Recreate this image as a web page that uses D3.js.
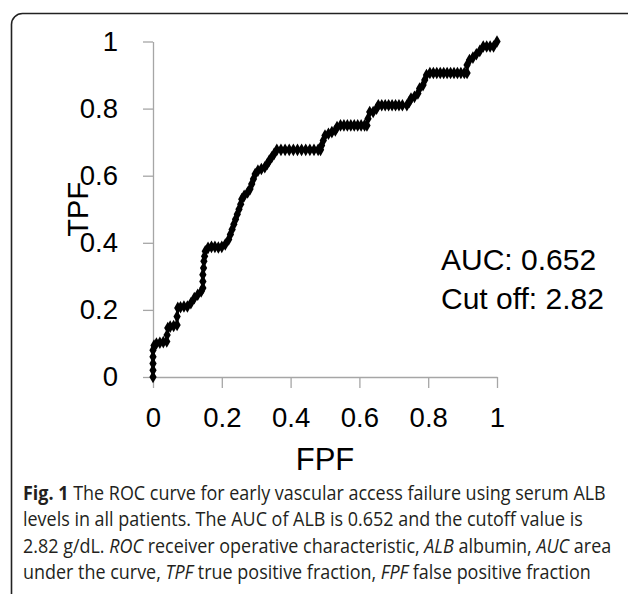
<!DOCTYPE html>
<html lang="en">

<head>
    <meta charset="UTF-8">
    <title>ROC curve ALB</title>
    <script src="https://d3js.org/d3.v7.min.js"></script>
    <style>
        body {
            margin: 0;
            background: #fff;
        }
    </style>
</head>

<body>
    <svg width="628" height="594"></svg>

    <script>
        // ROC points (false positive fraction, true positive fraction)
        const fpf = [0, 0, 0, 0, 0, 0.003, 0.01, 0.02, 0.03, 0.04, 0.041, 0.043, 0.05, 0.06, 0.07, 0.07, 0.072,
            0.08, 0.09, 0.1, 0.11, 0.12, 0.13, 0.14, 0.145, 0.145, 0.145, 0.147, 0.148, 0.15, 0.152,
            0.16, 0.17, 0.18, 0.19, 0.2, 0.21, 0.22, 0.225, 0.23, 0.235, 0.24, 0.245, 0.25, 0.255, 0.258,
            0.265, 0.275, 0.282, 0.287, 0.292, 0.297, 0.305, 0.315, 0.325, 0.332, 0.338, 0.345, 0.352, 0.36,
            0.372, 0.384, 0.396, 0.408, 0.42, 0.432, 0.444, 0.456, 0.468, 0.48, 0.487,
            0.49, 0.495, 0.5, 0.51, 0.52, 0.53, 0.535, 0.545,
            0.555, 0.565, 0.575, 0.585, 0.595, 0.605, 0.615, 0.622,
            0.625, 0.63, 0.64, 0.65, 0.655,
            0.665, 0.675, 0.685, 0.695, 0.705, 0.715, 0.725, 0.738,
            0.745, 0.75, 0.76, 0.77, 0.775, 0.785, 0.79, 0.795,
            0.805, 0.815, 0.825, 0.835, 0.845, 0.855, 0.865, 0.875, 0.885, 0.895, 0.905, 0.913,
            0.913, 0.92, 0.93, 0.94, 0.95, 0.96, 0.97, 0.98, 0.99, 1];
        const tpf = [0, 0.02, 0.04, 0.06, 0.08, 0.094, 0.1, 0.102, 0.104, 0.106, 0.125, 0.146, 0.15, 0.152, 0.155, 0.18, 0.206,
            0.208, 0.21, 0.21, 0.22, 0.235, 0.245, 0.255, 0.265, 0.285, 0.305, 0.325, 0.345, 0.36, 0.375,
            0.385, 0.388, 0.388, 0.386, 0.388, 0.395, 0.41, 0.425, 0.44, 0.455, 0.47, 0.485, 0.5, 0.515, 0.53,
            0.54, 0.55, 0.56, 0.575, 0.59, 0.605, 0.615, 0.62, 0.625, 0.635, 0.645, 0.655, 0.665, 0.677,
            0.677, 0.677, 0.677, 0.677, 0.677, 0.677, 0.677, 0.677, 0.677, 0.677, 0.677,
            0.69, 0.705, 0.72, 0.725, 0.73, 0.735, 0.745, 0.75,
            0.75, 0.75, 0.75, 0.75, 0.75, 0.75, 0.75, 0.75,
            0.77, 0.79, 0.79, 0.8, 0.81,
            0.81, 0.81, 0.81, 0.81, 0.81, 0.81, 0.81, 0.81,
            0.82, 0.83, 0.835, 0.845, 0.86, 0.87, 0.885, 0.9,
            0.906, 0.906, 0.906, 0.906, 0.906, 0.906, 0.906, 0.906, 0.906, 0.906, 0.906, 0.906,
            0.93, 0.945, 0.952, 0.962, 0.972, 0.985, 0.985, 0.985, 0.985, 1];

        const tickValues = [0, 0.2, 0.4, 0.6, 0.8, 1];
        const statLines = ["AUC: 0.652", "Cut off: 2.82"];
        const captionLines = [
            [["b", "Fig. 1"], ["n", " The ROC curve for early vascular access failure using serum ALB"]],
            [["n", "levels in all patients. The AUC of ALB is 0.652 and the cutoff value is"]],
            [["n", "2.82 g/dL. "], ["i", "ROC"], ["n", " receiver operative characteristic, "], ["i", "ALB"],
                ["n", " albumin, "], ["i", "AUC"], ["n", " area"]],
            [["n", "under the curve, "], ["i", "TPF"], ["n", " true positive fraction, "], ["i", "FPF"],
                ["n", " false positive fraction"]]
        ];

        const points = fpf.map((d, i) => ({ x: d, y: tpf[i] }));

        const svg = d3.select("svg");

        // figure frame, right and bottom edges run off the picture
        svg.append("rect")
            .attr("x", 11.5)
            .attr("y", 13.5)
            .attr("width", 660)
            .attr("height", 640)
            .attr("rx", 11)
            .attr("fill", "none")
            .attr("stroke", "#222")
            .attr("stroke-width", 1.6);

        const x = d3.scaleLinear().domain([0, 1]).range([153, 497]);
        const y = d3.scaleLinear().domain([0, 1]).range([377, 41.5]);

        const axisColor = "#a6a6a6";
        const chartFont = "'Liberation Sans', Arial, sans-serif";

        const yAxis = svg.append("g")
            .attr("transform", `translate(${x(0)},0)`)
            .call(d3.axisLeft(y).tickValues(tickValues).tickFormat(d3.format("~g"))
                .tickSize(10).tickSizeOuter(0).tickPadding(25));

        const xAxis = svg.append("g")
            .attr("transform", `translate(0,${y(0)})`)
            .call(d3.axisBottom(x).tickValues(tickValues).tickFormat(d3.format("~g"))
                .tickSize(11).tickSizeOuter(0).tickPadding(19));

        [xAxis, yAxis].forEach(g => {
            g.select(".domain").attr("stroke", axisColor).attr("stroke-width", 1.3);
            g.selectAll(".tick line").attr("stroke", axisColor).attr("stroke-width", 1.3);
            g.selectAll(".tick text")
                .attr("fill", "#000")
                .style("font-family", chartFont)
                .style("font-size", "27.5px");
        });

        // axis titles
        svg.append("text")
            .attr("x", (x(0) + x(1)) / 2)
            .attr("y", 470)
            .attr("text-anchor", "middle")
            .style("font-family", chartFont)
            .style("font-size", "31px")
            .text("FPF");

        svg.append("text")
            .attr("transform", `translate(88,${(y(0) + y(1)) / 2}) rotate(-90)`)
            .attr("text-anchor", "middle")
            .style("font-family", chartFont)
            .style("font-size", "29px")
            .text("TPF");

        // ROC line with diamond markers
        const line = d3.line()
            .x(d => x(d.x))
            .y(d => y(d.y));

        svg.append("path")
            .datum(points)
            .attr("d", line)
            .attr("fill", "none")
            .attr("stroke", "#000")
            .attr("stroke-width", 3)
            .attr("stroke-linejoin", "round");

        svg.append("g")
            .selectAll("path")
            .data(points)
            .enter()
            .append("path")
            .attr("transform", d => `translate(${x(d.x)},${y(d.y)})`)
            .attr("d", d3.symbol().type(d3.symbolDiamond).size(46))
            .attr("fill", "#000");

        // AUC / cut off note
        svg.append("g")
            .selectAll("text")
            .data(statLines)
            .enter()
            .append("text")
            .attr("x", 441)
            .attr("y", (d, i) => 270 + i * 39)
            .style("font-family", chartFont)
            .style("font-size", "30px")
            .text(d => d);

        // caption
        const caption = svg.append("g").attr("fill", "#231f20");
        const captionTexts = captionLines.map((parts, i) => {
            const t = caption.append("text")
                .attr("x", 0)
                .attr("y", 500 + i * 26.5)
                .style("font-family", "'Open Sans', 'Noto Sans', sans-serif")
                .style("font-size", "19.5px");
            parts.forEach(([kind, str]) => {
                t.append("tspan")
                    .attr("font-weight", kind === "b" ? 700 : 400)
                    .attr("font-style", kind === "i" ? "italic" : "normal")
                    .text(str);
            });
            return t;
        });

        // squeeze the caption to the width of the narrow print face
        const natural = captionTexts[0].node().getComputedTextLength();
        const k = (606 - 23) / natural;
        caption.attr("transform", `translate(23,0) scale(${k},1)`);
    </script>
</body>

</html>
